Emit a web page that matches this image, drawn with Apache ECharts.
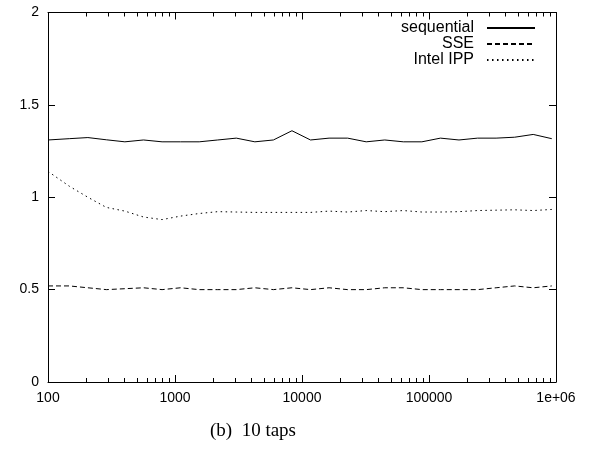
<!DOCTYPE html>
<html><head><meta charset="utf-8">
<script src="https://cdn.jsdelivr.net/npm/echarts@6/dist/echarts.min.js"></script>
<style>html,body{margin:0;padding:0;background:#fff}#c{width:601px;height:458px}</style>
</head><body><div id="c"></div>
<script>
// Data (x = problem size, log scale)
const sizes = [100, 147, 206, 288, 403, 565, 791, 1107, 1550, 2170, 3038, 4253, 5954, 8336, 11670, 16338, 22873, 32022, 44831, 62763, 87869, 123016, 172223, 241112, 337557, 472580, 661612, 926257];
const sequential = [1.31, 1.317, 1.323, 1.311, 1.30, 1.31, 1.30, 1.30, 1.30, 1.31, 1.32, 1.30, 1.31, 1.36, 1.31, 1.32, 1.32, 1.30, 1.31, 1.30, 1.30, 1.32, 1.31, 1.32, 1.32, 1.325, 1.34, 1.317];
const sse = [0.52, 0.52, 0.51, 0.50, 0.505, 0.51, 0.50, 0.51, 0.50, 0.50, 0.50, 0.51, 0.50, 0.51, 0.50, 0.51, 0.50, 0.50, 0.51, 0.51, 0.50, 0.50, 0.50, 0.50, 0.51, 0.52, 0.51, 0.52];
const ipp = [1.14, 1.06, 1.00, 0.945, 0.925, 0.893, 0.879, 0.898, 0.912, 0.922, 0.92, 0.918, 0.918, 0.918, 0.918, 0.925, 0.92, 0.928, 0.922, 0.928, 0.92, 0.92, 0.922, 0.928, 0.93, 0.932, 0.928, 0.934];
const seriesNames = ['sequential', 'SSE', 'Intel IPP'];
const yTicks = [0, 0.5, 1, 1.5, 2];
const xMajorTicks = [100, 1000, 10000, 100000, 1000000];
const xMinorMultipliers = [2, 3, 4, 5, 6, 7, 8, 9];
const caption = '(b)  10 taps';

// minor tick positions in log10 space (for helper axes)
const minorLog = [];
for (let d = 2; d < 6; d++) for (const m of xMinorMultipliers) minorLog.push(d + Math.log10(m));

const font = 'Liberation Sans, Arial, Helvetica, sans-serif';
const black = '#000';
const chart = echarts.init(document.getElementById('c'), null, {renderer: 'canvas'});
const pairs = arr => sizes.map((x, i) => [x, arr[i]]);

const lineSeries = (name, data, dash) => ({
  name, type: 'line', data: pairs(data), xAxisIndex: 0, yAxisIndex: 0,
  symbol: 'none', animation: false, smooth: false, color: black,
  itemStyle: {color: black},
  lineStyle: {color: black, width: 1, type: dash}
});

const minorAxis = pos => ({
  type: 'value', min: 2, max: 6, position: pos,
  axisLine: {show: false, onZero: false},
  axisTick: {show: true, inside: true, length: 4, customValues: minorLog, lineStyle: {color: black}},
  axisLabel: {show: false}, splitLine: {show: false}
});

chart.setOption({
  animation: false,
  backgroundColor: '#fff',
  title: {text: caption, left: 205, top: 417,
    textStyle: {fontFamily: 'Liberation Serif, Times New Roman, serif', fontSize: 19, fontWeight: 'normal', color: black}},
  grid: {left: 48, right: 45, top: 12.5, bottom: 76, containLabel: false},
  legend: {
    orient: 'vertical', right: 65, top: 20, align: 'right', padding: 0,
    itemWidth: 48, itemHeight: 14, itemGap: 0,
    itemStyle: {opacity: 0},
    textStyle: {fontFamily: font, fontSize: 16, color: black, padding: [0, 8, 0, 0]},
    data: seriesNames.map(n => ({name: n}))
  },
  xAxis: [
    {type: 'log', logBase: 10, min: 100, max: 1000000, position: 'bottom',
      axisLine: {onZero: false, lineStyle: {color: black, width: 1}},
      axisTick: {inside: true, length: 7, lineStyle: {color: black}},
      axisLabel: {margin: 9, fontFamily: font, fontSize: 14, color: black,
        formatter: v => v >= 1000000 ? '1e+06' : String(Math.round(v))},
      splitLine: {show: false}, minorTick: {show: false}},
    {type: 'log', logBase: 10, min: 100, max: 1000000, position: 'top',
      axisLine: {onZero: false, lineStyle: {color: black, width: 1}},
      axisTick: {inside: true, length: 7, lineStyle: {color: black}},
      axisLabel: {show: false}, splitLine: {show: false}},
    minorAxis('bottom'),
    minorAxis('top')
  ],
  yAxis: [
    {type: 'value', min: 0, max: 2, interval: 0.5, position: 'left',
      axisLine: {show: true, onZero: false, lineStyle: {color: black, width: 1}},
      axisTick: {show: true, inside: true, length: 7, lineStyle: {color: black}},
      axisLabel: {margin: 9, fontFamily: font, fontSize: 14, color: black,
        formatter: v => String(v)},
      splitLine: {show: false}},
    {type: 'value', min: 0, max: 2, interval: 0.5, position: 'right',
      axisLine: {show: true, onZero: false, lineStyle: {color: black, width: 1}},
      axisTick: {show: true, inside: true, length: 7, lineStyle: {color: black}},
      axisLabel: {show: false}, splitLine: {show: false}}
  ],
  series: [
    lineSeries(seriesNames[0], sequential, 'solid'),
    lineSeries(seriesNames[1], sse, [5, 3]),
    lineSeries(seriesNames[2], ipp, [1.5, 3.5])
  ]
});
</script></body></html>
